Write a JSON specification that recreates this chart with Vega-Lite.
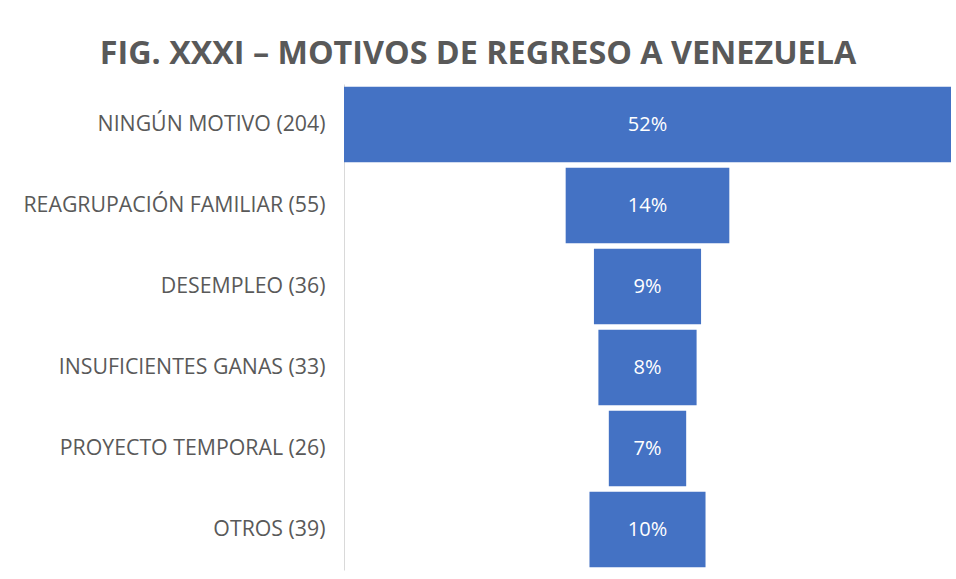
{
  "$schema": "https://vega.github.io/schema/vega-lite/v6.json",
  "width": 607,
  "height": 486,
  "autosize": {"type": "none"},
  "padding": {"left": 344, "top": 84, "right": 5, "bottom": 9},
  "background": "white",
  "title": {
    "text": "FIG. XXXI – MOTIVOS DE REGRESO A VENEZUELA",
    "font": "Open Sans",
    "fontSize": 32.3,
    "fontWeight": "bold",
    "color": "#595959",
    "anchor": "middle",
    "frame": "bounds",
    "offset": 14,
    "dx": -9
  },
  "data": {
    "values": [
      {"label": "NINGÚN MOTIVO (204)", "count": 204, "pct": 0.52},
      {"label": "REAGRUPACIÓN FAMILIAR (55)", "count": 55, "pct": 0.14},
      {"label": "DESEMPLEO (36)", "count": 36, "pct": 0.09},
      {"label": "INSUFICIENTES GANAS (33)", "count": 33, "pct": 0.08},
      {"label": "PROYECTO TEMPORAL (26)", "count": 26, "pct": 0.07},
      {"label": "OTROS (39)", "count": 39, "pct": 0.10}
    ]
  },
  "encoding": {
    "y": {
      "field": "label",
      "type": "nominal",
      "sort": null,
      "scale": {"paddingInner": 0.07, "paddingOuter": 0.035},
      "axis": {
        "title": null,
        "ticks": false,
        "domain": true,
        "domainColor": "#d9d9d9",
        "domainWidth": 1,
        "labelFont": "Open Sans",
        "labelFontSize": 21.3,
        "labelColor": "#595959",
        "labelPadding": 19,
        "labelLimit": 400
      }
    }
  },
  "layer": [
    {
      "mark": {"type": "bar", "color": "#4472C4"},
      "encoding": {
        "x": {
          "field": "count",
          "type": "quantitative",
          "stack": "center",
          "scale": {"domain": [0, 204], "nice": false},
          "axis": null
        }
      }
    },
    {
      "mark": {"type": "text", "color": "white", "font": "Open Sans", "fontSize": 20, "align": "center", "baseline": "middle"},
      "encoding": {
        "x": {"datum": 102, "type": "quantitative"},
        "text": {"field": "pct", "type": "quantitative", "format": ".0%"}
      }
    }
  ],
  "config": {"view": {"stroke": null}}
}
